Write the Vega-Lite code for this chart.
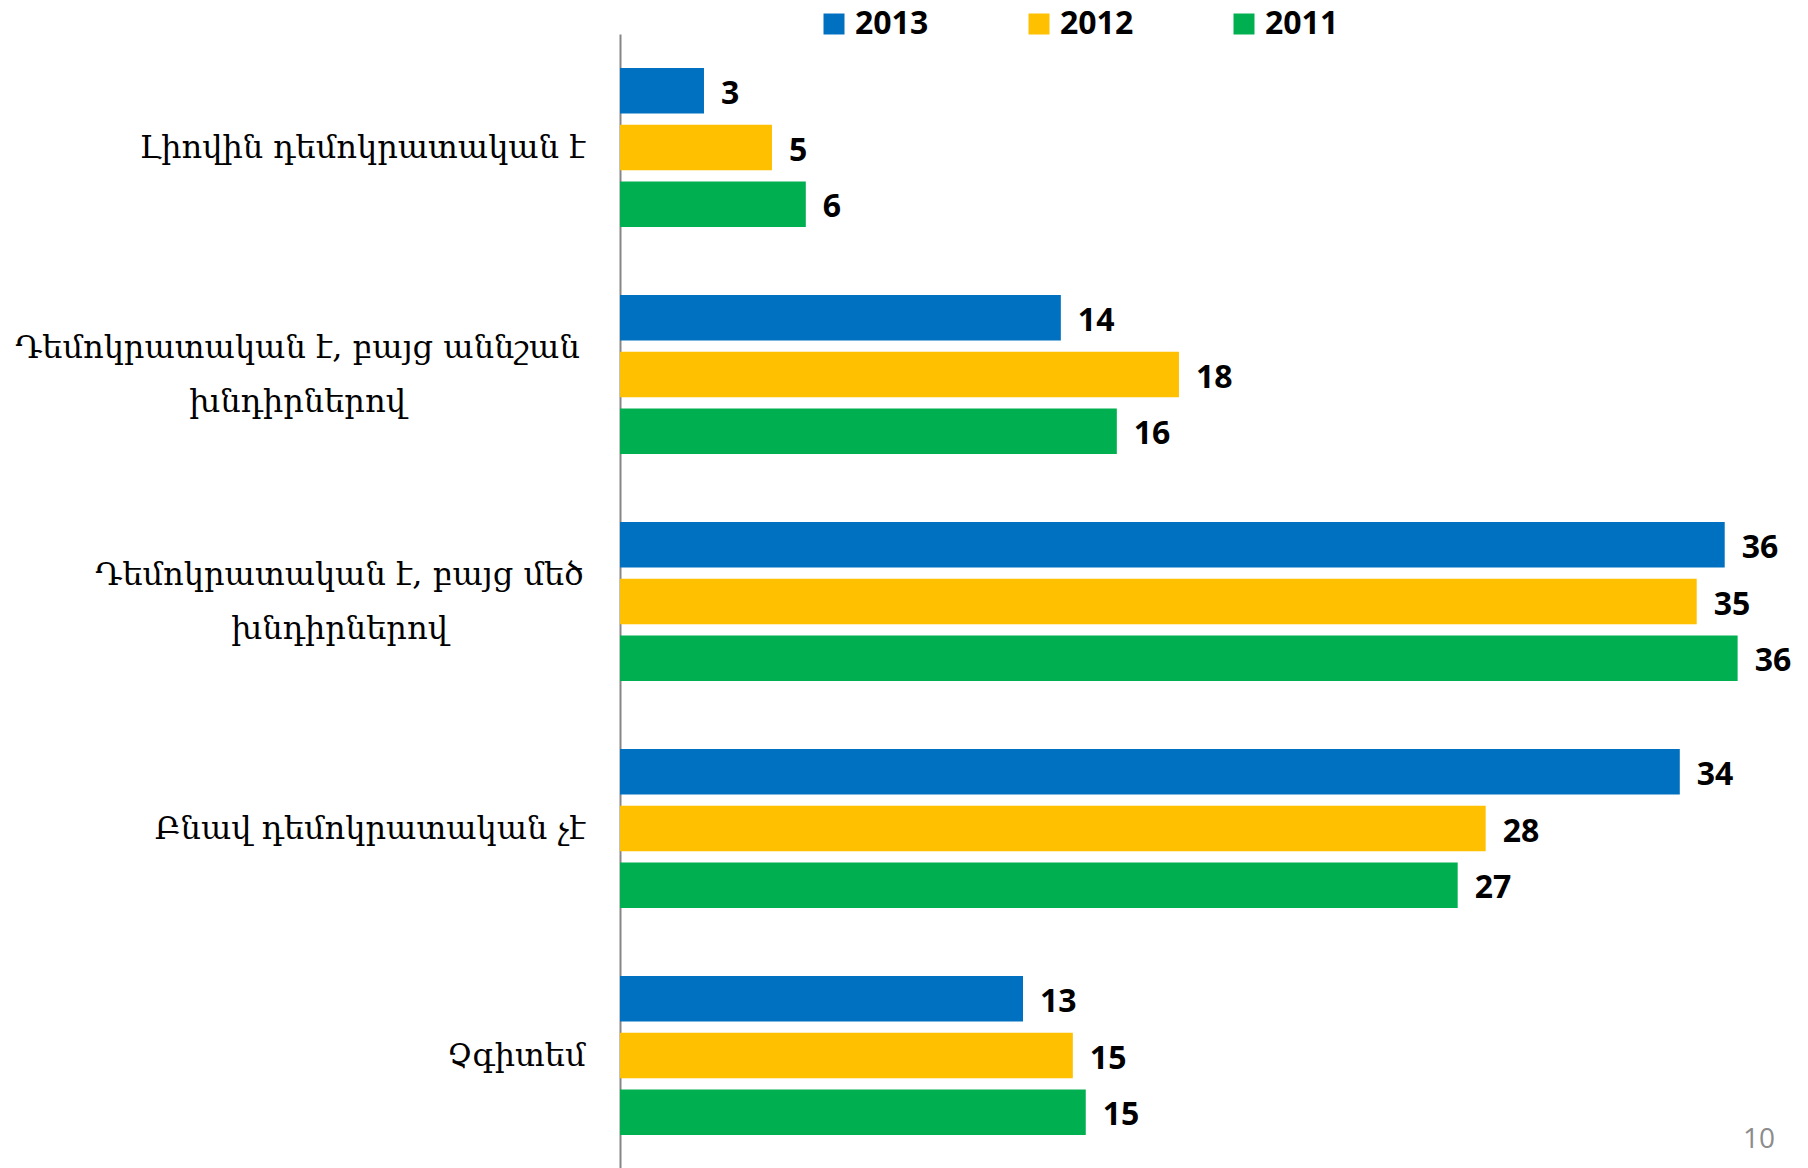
{
  "$schema": "https://vega.github.io/schema/vega-lite/v6.json",
  "width": 1169,
  "height": 1135,
  "autosize": {"type": "none"},
  "padding": {"left": 620, "top": 34, "right": 19, "bottom": 0},
  "background": "white",
  "config": {"view": {"stroke": null}},
  "title": {
    "text": "10",
    "orient": "bottom",
    "anchor": "end",
    "frame": "group",
    "offset": -43,
    "dx": -14,
    "font": "Open Sans",
    "fontSize": 28,
    "fontWeight": "normal",
    "color": "#8C8C8C"
  },
  "data": {
    "values": [
      {"category": "Լիովին դեմոկրատական է", "year": "2013", "value": 2.73},
      {"category": "Լիովին դեմոկրատական է", "year": "2012", "value": 4.94},
      {"category": "Լիովին դեմոկրատական է", "year": "2011", "value": 6.04},
      {"category": "Դեմոկրատական է, բայց աննշան խնդիրներով", "year": "2013", "value": 14.33},
      {"category": "Դեմոկրատական է, բայց աննշան խնդիրներով", "year": "2012", "value": 18.17},
      {"category": "Դեմոկրատական է, բայց աննշան խնդիրներով", "year": "2011", "value": 16.15},
      {"category": "Դեմոկրատական է, բայց  մեծ խնդիրներով", "year": "2013", "value": 35.91},
      {"category": "Դեմոկրատական է, բայց  մեծ խնդիրներով", "year": "2012", "value": 35.0},
      {"category": "Դեմոկրատական է, բայց  մեծ խնդիրներով", "year": "2011", "value": 36.33},
      {"category": "Բնավ դեմոկրատական չէ", "year": "2013", "value": 34.45},
      {"category": "Բնավ դեմոկրատական չէ", "year": "2012", "value": 28.14},
      {"category": "Բնավ դեմոկրատական չէ", "year": "2011", "value": 27.23},
      {"category": "Չգիտեմ", "year": "2013", "value": 13.1},
      {"category": "Չգիտեմ", "year": "2012", "value": 14.72},
      {"category": "Չգիտեմ", "year": "2011", "value": 15.14}
    ]
  },
  "encoding": {
    "y": {
      "field": "category",
      "type": "nominal",
      "sort": null,
      "scale": {"paddingInner": 0.3, "paddingOuter": 0.15},
      "axis": {
        "title": null,
        "ticks": false,
        "domainColor": "#868686",
        "domainWidth": 2,
        "labelFont": "DejaVu Serif",
        "labelFontSize": 32,
        "labelColor": "#000000",
        "labelLimit": 0,
        "labelLineHeight": 54,
        "labelAlign": {"condition": {"test": "test(/խնդիրներով/, datum.value)", "value": "center"}, "value": "right"},
        "labelOffset": {"condition": {"test": "test(/խնդիրներով/, datum.value)", "value": -27}, "value": 0},
        "labelPadding": {"condition": [
          {"test": "test(/աննշան/, datum.value)", "value": 323},
          {"test": "test(/մեծ/, datum.value)", "value": 281}
        ], "value": 35},
        "labelExpr": "test(/խնդիրներով/, datum.label) ? [trim(replace(datum.label, 'խնդիրներով', '')), 'խնդիրներով'] : datum.label"
      }
    },
    "yOffset": {
      "field": "year",
      "type": "nominal",
      "sort": ["2013", "2012", "2011"],
      "scale": {"paddingInner": 0.2, "paddingOuter": 0}
    },
    "x": {
      "field": "value",
      "type": "quantitative",
      "scale": {"domain": [0, 38], "nice": false, "zero": true},
      "axis": null
    }
  },
  "layer": [
    {
      "mark": {"type": "bar"},
      "encoding": {
        "color": {
          "field": "year",
          "type": "nominal",
          "scale": {"domain": ["2013", "2012", "2011"], "range": ["#0070C0", "#FFC000", "#00B050"]},
          "legend": {
            "title": null,
            "orient": "none",
            "legendX": 198,
            "legendY": -26,
            "direction": "horizontal",
            "symbolType": "square",
            "symbolSize": 441,
            "symbolStrokeWidth": 0,
            "labelFont": "Open Sans",
            "labelFontWeight": "bold",
            "labelFontSize": 32,
            "labelColor": "#000000",
            "labelOffset": 5,
            "columnPadding": 94
          }
        }
      }
    },
    {
      "mark": {
        "type": "text",
        "align": "left",
        "baseline": "middle",
        "dx": 17,
        "dy": 3,
        "font": "Open Sans",
        "fontWeight": "bold",
        "fontSize": 32,
        "color": "#000000"
      },
      "encoding": {
        "text": {"field": "value", "type": "quantitative", "format": ".0f"}
      }
    }
  ]
}
